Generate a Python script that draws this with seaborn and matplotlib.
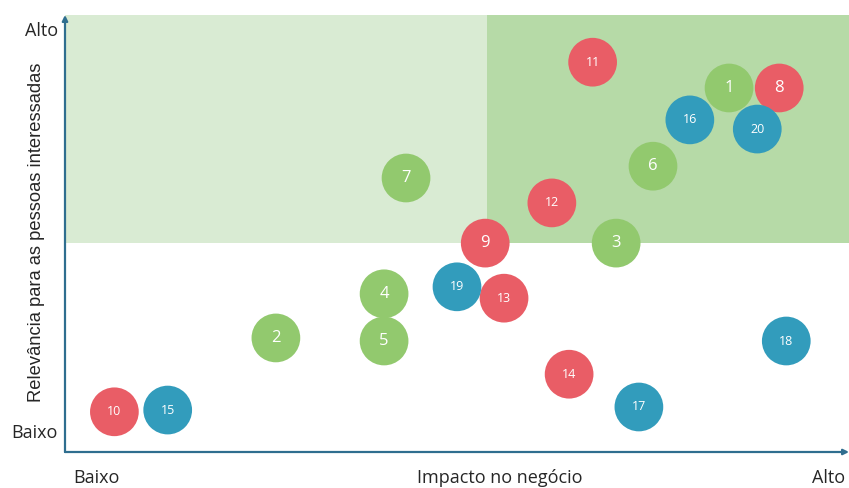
import matplotlib
matplotlib.use("Agg")
import matplotlib.pyplot as plt
import seaborn as sns
import pandas as pd

ids = [1, 2, 3, 4, 5, 6, 7, 8, 9, 10, 11, 12, 13, 14, 15, 16, 17, 18, 19, 20]
impacto = [8.47, 2.69, 7.03, 4.07, 4.07, 7.50, 4.35, 9.11, 5.36, 0.63,
           6.73, 6.21, 5.60, 6.43, 1.31, 7.97, 7.32, 9.20, 5.00, 8.83]
relevancia = [8.33, 2.61, 4.78, 3.62, 2.54, 6.54, 6.27, 8.33, 4.78, 0.92,
              8.92, 5.70, 3.52, 1.78, 0.96, 7.60, 1.03, 2.54, 3.78, 7.39]
grupo = ["G", "G", "G", "G", "G", "G", "G", "R", "R", "R",
         "R", "R", "R", "R", "B", "B", "B", "B", "B", "B"]
palette = {"G": "#92C96E", "R": "#E95D66", "B": "#329CBC"}

df = pd.DataFrame({"id": ids, "x": impacto, "y": relevancia, "g": grupo})

sns.set_style("white")
plt.rcParams["font.family"] = ["Open Sans", "DejaVu Sans"]

fig = plt.figure(figsize=(8.49, 4.88), dpi=100)
ax = fig.add_axes([65 / 849, 36 / 488, 784 / 849, 437 / 488])
ax.set_xlim(0, 10)
ax.set_ylim(0, 10)

ax.axhspan(4.78, 10, xmin=0, xmax=1, color="#D9EBD3", lw=0, zorder=0)
ax.axhspan(4.78, 10, xmin=0.538, xmax=1, color="#B6DAA7", lw=0, zorder=0)

sns.scatterplot(data=df, x="x", y="y", hue="g", palette=palette, s=1230,
                edgecolor="none", legend=False, ax=ax, zorder=3, clip_on=False)
for i, x, y in zip(ids, impacto, relevancia):
    ax.text(x, y, str(i), ha="center", va="center", color="white",
            fontsize=12 if i < 10 else 9, zorder=4)

for s in ax.spines.values():
    s.set_visible(False)
ax.set_xticks([])
ax.set_yticks([])
ax.set_xlabel("")
ax.set_ylabel("")

axis_col = "#2F6E8F"
ax.annotate("", xy=(0, 1.0), xytext=(0, 0), xycoords="axes fraction",
            arrowprops=dict(arrowstyle="-|>", color=axis_col, lw=1.6,
                            mutation_scale=8, shrinkA=0, shrinkB=0))
ax.annotate("", xy=(1.0, 0), xytext=(0, 0), xycoords="axes fraction",
            arrowprops=dict(arrowstyle="-|>", color=axis_col, lw=1.6,
                            mutation_scale=8, shrinkA=0, shrinkB=0))

fs = 13
fig.text(42 / 849, 1 - 31 / 488, "Alto", ha="center", va="center", fontsize=fs)
fig.text(34 / 849, 1 - 433 / 488, "Baixo", ha="center", va="center", fontsize=fs)
fig.text(96 / 849, 1 - 478 / 488, "Baixo", ha="center", va="center", fontsize=fs)
fig.text(829 / 849, 1 - 478 / 488, "Alto", ha="center", va="center", fontsize=fs)
fig.text(500 / 849, 1 - 478 / 488, "Impacto no negócio", ha="center", va="center", fontsize=fs)
fig.text(37 / 849, 1 - 232 / 488, "Relevância para as pessoas interessadas",
         ha="center", va="center", rotation=90, fontsize=13.2,
         family=["Liberation Sans", "DejaVu Sans"])

fig.savefig("out.png", dpi=100)
